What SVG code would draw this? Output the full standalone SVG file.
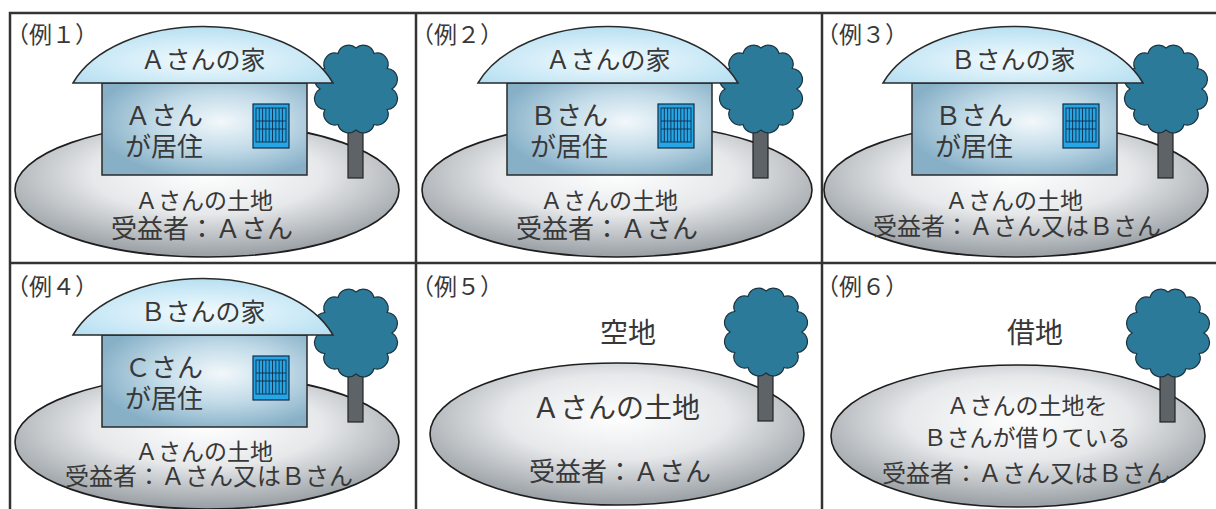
<svg xmlns="http://www.w3.org/2000/svg" xmlns:xlink="http://www.w3.org/1999/xlink" width="1216" height="509" viewBox="0 0 1216 509">
  <style>
    .frame { fill: none; stroke: #333; stroke-width: 2.5; }
    .ground { fill: url(#groundGrad); stroke: #1e1e1e; stroke-width: 1.6; }
    .roof { fill: url(#roofGrad); stroke: #2a2a2a; stroke-width: 1.5; }
    .body { fill: url(#bodyGrad); stroke: #2a2a2a; stroke-width: 1.5; }
    .canopy { fill: #2b7a99; stroke: #1b3440; stroke-width: 1.2; }
    .trunk { fill: #5d6367; stroke: #222; stroke-width: 1.2; }
    .win { fill: #27a6e6; stroke: #0f2d4a; stroke-width: 1.2; }
    .grid { fill: none; stroke: #0f2d4a; stroke-width: 0.9; }
    text { font-family: "Noto Sans CJK JP", "Noto Sans", sans-serif; fill: #383838; }
    .tag { font-size: 23px; }
    .mid { text-anchor: middle; }
  </style>
  <defs>
    <radialGradient id="groundGrad" cx="50%" cy="38%" r="60%">
      <stop offset="0" stop-color="#ffffff"/>
      <stop offset="0.5" stop-color="#e6e8ea"/>
      <stop offset="1" stop-color="#9ca2a7"/>
    </radialGradient>
    <radialGradient id="roofGrad" cx="50%" cy="60%" r="60%">
      <stop offset="0" stop-color="#f3fbfe"/>
      <stop offset="1" stop-color="#b7e0f2"/>
    </radialGradient>
    <radialGradient id="bodyGrad" cx="58%" cy="42%" r="62%">
      <stop offset="0" stop-color="#f2f8fb"/>
      <stop offset="0.5" stop-color="#c2dbe8"/>
      <stop offset="1" stop-color="#87b0c7"/>
    </radialGradient>

    <!-- tree: scalloped canopy centred on origin, trunk below -->
    <g id="tree">
      <rect class="trunk" x="-8" y="30" width="15" height="59"/>
      <path class="canopy" d="M36,0 A11,11 0 0 1 31.2,20.5 A11,11 0 0 1 18,35.5 A11,11 0 0 1 0,41 A11,11 0 0 1 -18,35.5 A11,11 0 0 1 -31.2,20.5 A11,11 0 0 1 -36,0 A11,11 0 0 1 -31.2,-20.5 A11,11 0 0 1 -18,-35.5 A11,11 0 0 1 0,-41 A11,11 0 0 1 18,-35.5 A11,11 0 0 1 31.2,-20.5 A11,11 0 0 1 36,0 Z"/>
    </g>

    <!-- barred window -->
    <g id="window">
      <rect class="win" x="0" y="0" width="36" height="44"/>
      <rect class="grid" x="3" y="4" width="30" height="34"/>
      <path class="grid" d="M6.3,4V38 M9.6,4V38 M12.9,4V38 M16.2,4V38 M19.5,4V38 M22.8,4V38 M26.1,4V38 M29.4,4V38 M3,17H33 M3,25H33"/>
    </g>

    <!-- house: body, window and domed roof -->
    <g id="house">
      <rect class="body" x="102" y="83" width="205" height="92"/>
      <use xlink:href="#window" x="253" y="104"/>
      <path class="roof" d="M73,83 A138,85 0 0 1 333,83 Z"/>
    </g>
  </defs>

  <!-- outer frame and panel dividers -->
  <g id="frame">
    <path class="frame" d="M10,509 V13 H1216 M416,13 V509 M822,13 V509 M10,263 H1216"/>
  </g>

  <!-- example 1 -->
  <g id="ex1">
    <ellipse class="ground" cx="207" cy="190" rx="192" ry="67"/>
    <use xlink:href="#tree" x="356" y="89"/>
    <use xlink:href="#house"/>
    <text class="tag" x="6" y="43">（例１）</text>
    <text class="mid" x="203" y="69" font-size="25">Ａさんの家</text>
    <text x="125" y="125" font-size="26">Ａさん</text>
    <text x="125" y="156" font-size="26">が居住</text>
    <text class="mid" x="204" y="209" font-size="23">Ａさんの土地</text>
    <text class="mid" x="202" y="238" font-size="26">受益者：Ａさん</text>
  </g>

  <!-- example 2 -->
  <g id="ex2" transform="translate(405,0)">
    <ellipse class="ground" cx="212" cy="190" rx="195" ry="67"/>
    <use xlink:href="#tree" x="356" y="89"/>
    <use xlink:href="#house"/>
    <text class="tag" x="6" y="43">（例２）</text>
    <text class="mid" x="203" y="69" font-size="25">Ａさんの家</text>
    <text x="125" y="125" font-size="26">Ｂさん</text>
    <text x="125" y="156" font-size="26">が居住</text>
    <text class="mid" x="204" y="209" font-size="23">Ａさんの土地</text>
    <text class="mid" x="202" y="238" font-size="26">受益者：Ａさん</text>
  </g>

  <!-- example 3 -->
  <g id="ex3" transform="translate(810,0)">
    <ellipse class="ground" cx="206" cy="190" rx="192" ry="67"/>
    <use xlink:href="#tree" x="356" y="89"/>
    <use xlink:href="#house"/>
    <text class="tag" x="6" y="43">（例３）</text>
    <text class="mid" x="203" y="69" font-size="25">Ｂさんの家</text>
    <text x="125" y="125" font-size="26">Ｂさん</text>
    <text x="125" y="156" font-size="26">が居住</text>
    <text class="mid" x="204" y="209" font-size="23">Ａさんの土地</text>
    <text class="mid" x="207" y="235" font-size="24">受益者：Ａさん又はＢさん</text>
  </g>

  <!-- example 4 -->
  <g id="ex4" transform="translate(0,252)">
    <ellipse class="ground" cx="207" cy="190" rx="192" ry="67"/>
    <use xlink:href="#tree" x="356" y="81"/>
    <use xlink:href="#house"/>
    <text class="tag" x="6" y="43">（例４）</text>
    <text class="mid" x="203" y="69" font-size="25">Ｂさんの家</text>
    <text x="125" y="125" font-size="26">Ｃさん</text>
    <text x="125" y="156" font-size="26">が居住</text>
    <text class="mid" x="204" y="208" font-size="23">Ａさんの土地</text>
    <text class="mid" x="209" y="233" font-size="24">受益者：Ａさん又はＢさん</text>
  </g>

  <!-- example 5: vacant land -->
  <g id="ex5">
    <ellipse class="ground" cx="617" cy="434" rx="187" ry="71"/>
    <use xlink:href="#tree" x="766" y="332"/>
    <text class="tag" x="411" y="295">（例５）</text>
    <text class="mid" x="628" y="343" font-size="28">空地</text>
    <text class="mid" x="616" y="418" font-size="28">Ａさんの土地</text>
    <text class="mid" x="620" y="481" font-size="26">受益者：Ａさん</text>
  </g>

  <!-- example 6: leased land -->
  <g id="ex6">
    <ellipse class="ground" cx="1018" cy="436" rx="187" ry="71"/>
    <use xlink:href="#tree" x="1168" y="333"/>
    <text class="tag" x="816" y="295">（例６）</text>
    <text class="mid" x="1035" y="343" font-size="28">借地</text>
    <text class="mid" x="1027" y="414" font-size="23">Ａさんの土地を</text>
    <text class="mid" x="1027" y="446" font-size="23">Ｂさんが借りている</text>
    <text class="mid" x="1026" y="482" font-size="24">受益者：Ａさん又はＢさん</text>
  </g>
</svg>
